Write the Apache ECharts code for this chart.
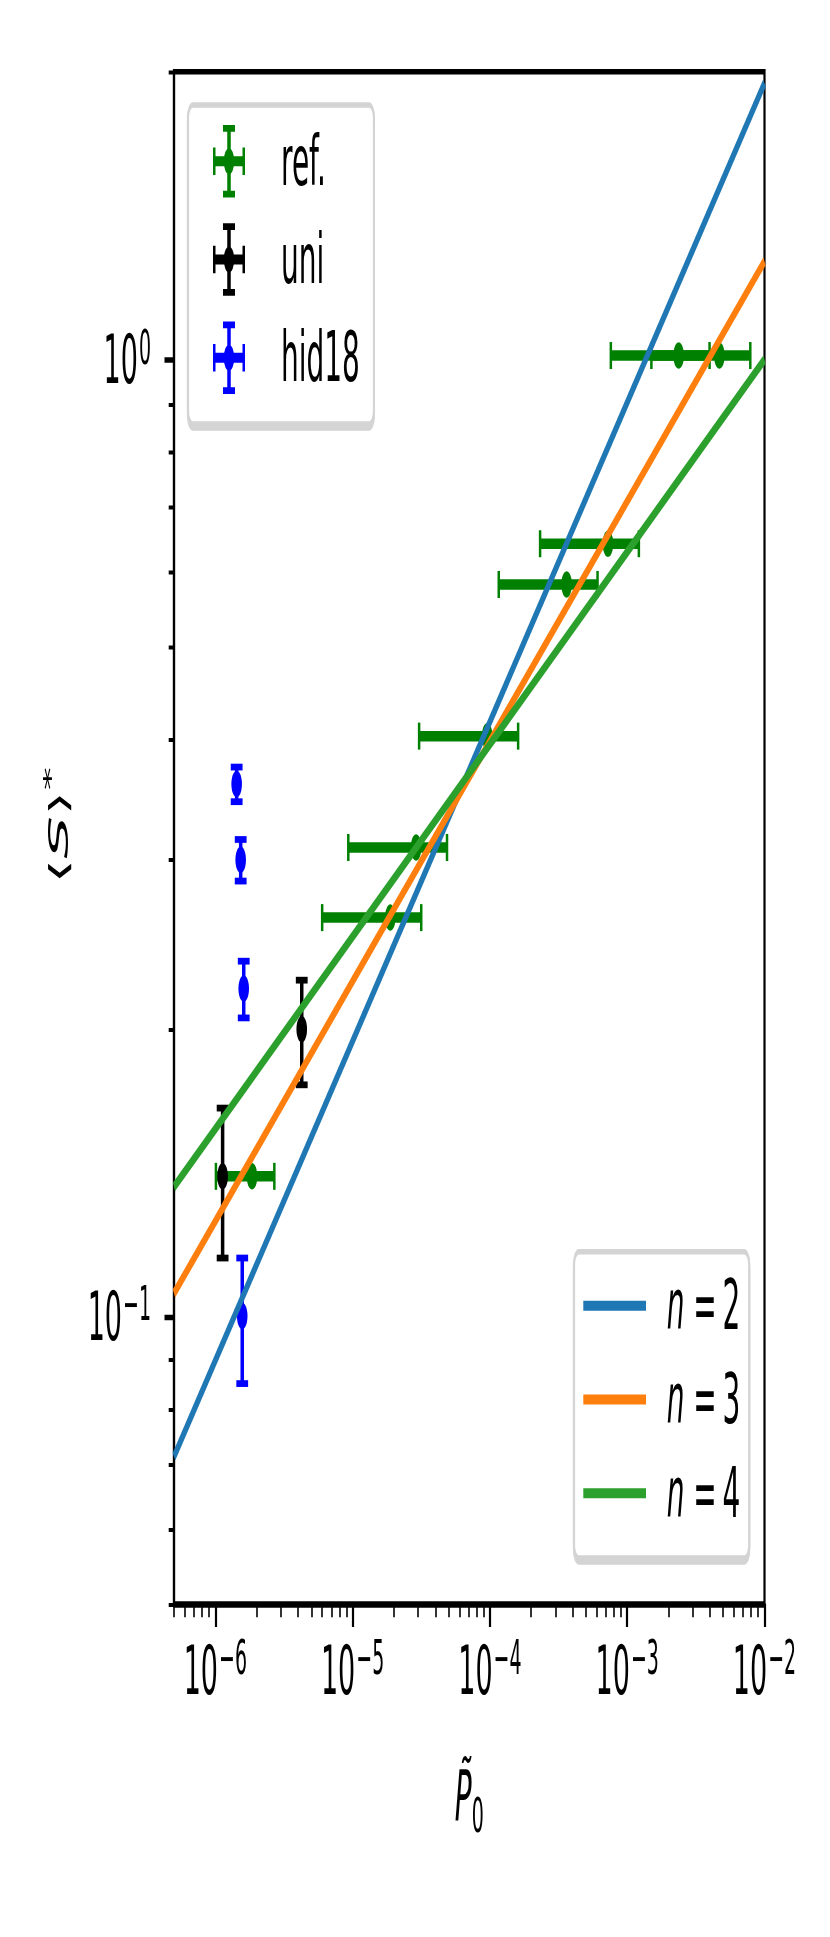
<!DOCTYPE html>
<html>
<head>
<meta charset="utf-8">
<script src="https://cdn.jsdelivr.net/npm/echarts@6/dist/echarts.min.js"></script>
<style>
  html, body { margin: 0; padding: 0; background: #fff; }
  body { width: 830px; height: 1937px; }
  /* the reference figure is stretched vertically, so draw flat and stretch the svg */
  #main { width: 830px; height: 774.8px; transform: scaleY(2.5); transform-origin: 0 0; }
</style>
</head>
<body>
<div id="main"></div>
<script>
// ---- data ----
const refX = [1.85e-6, 1.88e-5, 2.90e-5, 9.55e-5, 3.62e-4, 7.24e-4, 2.37e-3, 4.69e-3];
const refY = [0.140, 0.261, 0.309, 0.404, 0.582, 0.642, 1.01, 1.01];
const refXErr = [0.84e-6, 1.28e-5, 1.97e-5, 6.5e-5, 2.46e-4, 4.92e-4, 1.61e-3, 3.19e-3];

const uniX = [1.13e-6, 4.26e-6];
const uniY = [0.140, 0.1995];
const uniYErr = [0.025, 0.025];

const hidX = [1.57e-6, 1.61e-6, 1.53e-6, 1.43e-6];
const hidY = [0.100, 0.220, 0.300, 0.360];
const hidYErr = [0.015, 0.015, 0.015, 0.015];

// fitted power laws, ends at the axis limits
const fitX = [5e-7, 1e-2];
const fitN2 = [0.0713, 1.946];
const fitN3 = [0.1056, 1.267];
const fitN4 = [0.1365, 1.0];

const xMajor = [1e-6, 1e-5, 1e-4, 1e-3, 1e-2];
const yMajor = [0.1, 1];
const xMinor = [];
for (let e = -7; e <= -3; e++) {
  for (let m = 2; m <= 9; m++) {
    const v = m * Math.pow(10, e);
    if (v >= 5e-7 && v <= 1e-2) xMinor.push(v);
  }
}
const yMinor = [];
for (let e = -2; e <= 0; e++) {
  for (let m = 2; m <= 9; m++) {
    const v = m * Math.pow(10, e);
    if (v >= 0.05 && v <= 2) yMinor.push(v);
  }
}

const FONT = 'DejaVu Sans';
const GREEN = '#008000', BLACK = '#000000', BLUE = '#0000ff';

const myChart = echarts.init(document.getElementById('main'), null, { renderer: 'svg' });

function powLabel(v) {
  const e = Math.round(Math.log10(v));
  return '{b|10}{s|' + (e < 0 ? '\u2212' + (-e) : e) + '}';
}
const labelRich = {
  b: { fontFamily: FONT, fontSize: 27, lineHeight: 27, color: '#000', verticalAlign: 'bottom' },
  s: { fontFamily: FONT, fontSize: 19, lineHeight: 19, color: '#000', verticalAlign: 'bottom', padding: [0, 0, 9, 1] }
};

// error bar + marker drawn through the axes
function errRender(dir) {
  return function (params, api) {
    const x = api.value(0), y = api.value(1), e = api.value(2);
    const p = api.coord([x, y]);
    const color = api.visual('color');
    const kids = [];
    if (dir === 'x') {
      const a = api.coord([x - e, y]), b = api.coord([x + e, y]);
      kids.push({ type: 'line', shape: { x1: a[0], y1: p[1], x2: b[0], y2: p[1] }, style: { stroke: color, lineWidth: 4.2 } });
      kids.push({ type: 'line', shape: { x1: a[0], y1: p[1] - 5.4, x2: a[0], y2: p[1] + 5.4 }, style: { stroke: color, lineWidth: 2.5 } });
      kids.push({ type: 'line', shape: { x1: b[0], y1: p[1] - 5.4, x2: b[0], y2: p[1] + 5.4 }, style: { stroke: color, lineWidth: 2.5 } });
    } else {
      const a = api.coord([x, y - e]), b = api.coord([x, y + e]);
      kids.push({ type: 'line', shape: { x1: p[0], y1: a[1], x2: p[0], y2: b[1] }, style: { stroke: color, lineWidth: 3.5 } });
      kids.push({ type: 'line', shape: { x1: p[0] - 5.9, y1: a[1], x2: p[0] + 5.9, y2: a[1] }, style: { stroke: color, lineWidth: 2.7 } });
      kids.push({ type: 'line', shape: { x1: p[0] - 5.9, y1: b[1], x2: p[0] + 5.9, y2: b[1] }, style: { stroke: color, lineWidth: 2.7 } });
    }
    kids.push({ type: 'circle', shape: { cx: p[0], cy: p[1], r: 5.3 }, style: { fill: color } });
    return { type: 'group', children: kids };
  };
}

// legend handle: errorbar cross with caps and marker
const EB_ICON = 'path://M14.25 0h3.5v29h-3.5Z M10 0h12v2.7h-12Z M10 26.3h12v2.7h-12Z ' +
  'M0 12.5h32v4h-32Z M0 9h2.5v11h-2.5Z M29.5 9h2.5v11h-2.5Z ' +
  'M10.8 14.5a5.2 5.2 0 1 1 10.4 0a5.2 5.2 0 1 1 -10.4 0Z';
const LINE_ICON = 'path://M0 0h62.7v4h-62.7Z';

const baseX = {
  type: 'log', logBase: 10, min: 5e-7, max: 1e-2, gridIndex: 0, position: 'bottom',
  splitLine: { show: false }
};
const baseY = {
  type: 'log', logBase: 10, min: 0.05, max: 2, gridIndex: 0, position: 'left',
  splitLine: { show: false }
};

const option = {
  animation: false,
  backgroundColor: '#fff',
  grid: {
    left: 174, right: 65.5, top: 28.7, bottom: 133.4,
    show: true, borderColor: '#000', borderWidth: 2.2, backgroundColor: 'transparent',
    outerBoundsMode: 'none'
  },
  xAxis: [
    Object.assign({}, baseX, {
      axisLine: { show: true, onZero: false, lineStyle: { color: '#000', width: 2.2 } },
      axisTick: { show: true, inside: false, length: 9.2, customValues: xMajor, lineStyle: { color: '#000', width: 2.2 } },
      axisLabel: { show: true, customValues: xMajor, margin: 13, formatter: powLabel, rich: labelRich },
      name: '{p|P\u0303}{sub|0}',
      nameLocation: 'middle',
      nameGap: 63,
      nameTextStyle: {
        rich: {
          p: { fontFamily: FONT, fontSize: 28, lineHeight: 28, fontStyle: 'italic', color: '#000', verticalAlign: 'top' },
          sub: { fontFamily: FONT, fontSize: 19, lineHeight: 19, color: '#000', verticalAlign: 'top', padding: [12, 0, 0, 0] }
        }
      }
    }),
    Object.assign({}, baseX, {
      axisLine: { show: false },
      axisTick: { show: true, inside: false, length: 5.3, customValues: xMinor, lineStyle: { color: '#000', width: 1.6 } },
      axisLabel: { show: false }
    })
  ],
  yAxis: [
    Object.assign({}, baseY, {
      axisLine: { show: true, onZero: false, lineStyle: { color: '#000', width: 2.2 } },
      axisTick: { show: true, inside: false, length: 9.5, customValues: yMajor, lineStyle: { color: '#000', width: 2.2 } },
      axisLabel: { show: true, customValues: yMajor, margin: 23, formatter: powLabel, rich: labelRich },
      name: '{a0|\u27e8}{s|S}{a|\u27e9}{p|*}',
      nameLocation: 'middle',
      nameRotate: 90,
      nameGap: 102,
      nameTextStyle: {
        rich: {
          a0: { fontFamily: FONT, fontSize: 26, lineHeight: 28, color: '#000', verticalAlign: 'bottom', padding: [0, 0, 0, 10] },
          a: { fontFamily: FONT, fontSize: 26, lineHeight: 28, color: '#000', verticalAlign: 'bottom' },
          s: { fontFamily: FONT, fontSize: 27, lineHeight: 28, fontStyle: 'italic', color: '#000', verticalAlign: 'bottom' },
          p: { fontFamily: FONT, fontSize: 19, lineHeight: 19, color: '#000', verticalAlign: 'bottom', padding: [0, 0, 12, 0] }
        }
      }
    }),
    Object.assign({}, baseY, {
      axisLine: { show: false },
      axisTick: { show: true, inside: false, length: 5.3, customValues: yMinor, lineStyle: { color: '#000', width: 1.6 } },
      axisLabel: { show: false }
    })
  ],
  legend: [
    {
      data: [
        { name: 'ref.', icon: EB_ICON },
        { name: 'uni', icon: EB_ICON },
        { name: 'hid18', icon: EB_ICON }
      ],
      orient: 'vertical', left: 188, top: 42,
      itemWidth: 32, itemHeight: 29, itemGap: 10.3,
      symbolKeepAspect: false,
      padding: [8, 14, 12, 25],
      backgroundColor: '#fff', borderColor: '#d4d4d4', borderWidth: 2.2, borderRadius: 5,
      shadowColor: '#d4d4d4', shadowOffsetY: 1.6, shadowBlur: 0,
      selectedMode: false,
      formatter: function (name) { return '{t|' + name + '}'; },
      textStyle: {
        rich: { t: { fontFamily: FONT, fontSize: 28, lineHeight: 29, color: '#000', padding: [0, 0, 0, 31] } }
      }
    },
    {
      data: [
        { name: 'n=2', icon: LINE_ICON },
        { name: 'n=3', icon: LINE_ICON },
        { name: 'n=4', icon: LINE_ICON }
      ],
      orient: 'vertical', left: 574, top: 500.7,
      itemWidth: 62.7, itemHeight: 30, itemGap: 9.5,
      symbolKeepAspect: true,
      padding: [7.6, 9, 11.9, 9.3],
      backgroundColor: '#fff', borderColor: '#d4d4d4', borderWidth: 2.2, borderRadius: 5,
      shadowColor: '#d4d4d4', shadowOffsetY: 1.6, shadowBlur: 0,
      selectedMode: false,
      formatter: function (name) { return '{i|n}{t| =\u2009' + name.split('=')[1] + '}'; },
      textStyle: {
        rich: {
          i: { fontFamily: FONT, fontSize: 28, lineHeight: 30, fontStyle: 'italic', color: '#000', padding: [0, 0, 0, 15.7] },
          t: { fontFamily: FONT, fontSize: 28, lineHeight: 30, color: '#000' }
        }
      }
    }
  ],
  series: [
    {
      name: 'ref.', type: 'custom', xAxisIndex: 0, yAxisIndex: 0, z: 2,
      itemStyle: { color: GREEN }, color: GREEN,
      renderItem: errRender('x'), encode: { x: 0, y: 1 },
      data: refX.map((v, i) => [v, refY[i], refXErr[i]])
    },
    {
      name: 'uni', type: 'custom', xAxisIndex: 0, yAxisIndex: 0, z: 2,
      itemStyle: { color: BLACK }, color: BLACK,
      renderItem: errRender('y'), encode: { x: 0, y: 1 },
      data: uniX.map((v, i) => [v, uniY[i], uniYErr[i]])
    },
    {
      name: 'hid18', type: 'custom', xAxisIndex: 0, yAxisIndex: 0, z: 2,
      itemStyle: { color: BLUE }, color: BLUE,
      renderItem: errRender('y'), encode: { x: 0, y: 1 },
      data: hidX.map((v, i) => [v, hidY[i], hidYErr[i]])
    },
    {
      name: 'n=2', type: 'line', z: 3, showSymbol: false, symbol: 'none', color: '#1f77b4',
      lineStyle: { color: '#1f77b4', width: 4 },
      data: fitX.map((v, i) => [v, fitN2[i]])
    },
    {
      name: 'n=3', type: 'line', z: 3, showSymbol: false, symbol: 'none', color: '#ff7f0e',
      lineStyle: { color: '#ff7f0e', width: 4 },
      data: fitX.map((v, i) => [v, fitN3[i]])
    },
    {
      name: 'n=4', type: 'line', z: 3, showSymbol: false, symbol: 'none', color: '#2ca02c',
      lineStyle: { color: '#2ca02c', width: 4 },
      data: fitX.map((v, i) => [v, fitN4[i]])
    }
  ]
};

option && myChart.setOption(option);
</script>
</body>
</html>
